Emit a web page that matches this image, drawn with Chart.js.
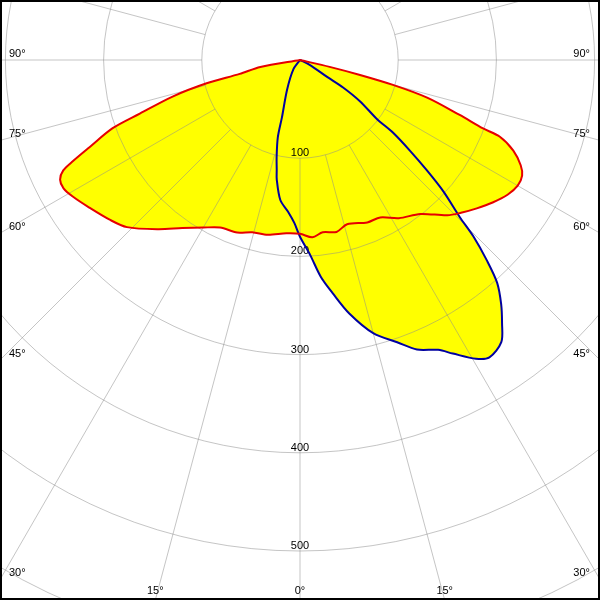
<!DOCTYPE html>
<html>
<head>
<meta charset="utf-8">
<style>
html,body{margin:0;padding:0;background:#fff;}
#wrap{width:600px;height:600px;}
canvas{display:block;}
</style>
<script src="https://cdn.jsdelivr.net/npm/chart.js@4.4.1/dist/chart.umd.min.js"></script>
</head>
<body>
<div id="wrap"><canvas id="c" width="600" height="600"></canvas></div>
<script>
// Polar light-distribution data: angle from nadir (deg, + = right), intensity (cd)
const RED_ANGLES = [-90, -80, -77, -76, -74, -71.5, -70, -67.5, -66, -65, -63.5, -61.5, -59, -55, -50, -46, -40, -35, -30, -25.5, -20, -15.5, -10.5, -4.5, 0, 4, 7.5, 12, 16, 22.5, 27, 32, 38, 43.5, 46.5, 50, 53.5, 57, 60, 62.5, 64.5, 67, 69, 69.5, 71, 73.5, 75, 76, 77, 90];
const RED_VALUES = [0, 41, 63, 98, 135, 172, 203, 232, 253, 266, 273, 274, 270, 262, 253, 245, 225, 209, 197, 189, 187, 182, 181, 177, 177, 181, 177, 179, 174, 179, 180, 190, 199, 218, 226, 235, 244, 252, 256, 255, 249, 236, 218, 199, 172, 135, 98, 63, 31, 0];

const BLUE_ANGLES = [-90, -35, -23.5, -17.5, -16, -13.5, -12, -11, -8, -4.5, -2, 0, 3, 5.5, 8, 11, 15, 19, 22, 25.5, 27.5, 30.5, 32.5, 35.5, 37.5, 39.5, 41.5, 43, 44.5, 45.5, 47.5, 49, 50.5, 52, 52.5, 55.5, 57.5, 58, 63.5, 90];
const BLUE_VALUES = [0, 12, 33, 61, 82, 102, 114, 124, 144, 155, 166, 180, 199, 222, 240, 263, 288, 304, 318, 327, 337, 353, 359, 353, 338, 322, 303, 279, 252, 228, 198, 171, 145, 120, 99, 74, 52, 33, 11, 0];

const RING_VALUES = [100, 200, 300, 400, 500, 600];
const RING_LABELS = ['100', '200', '300', '400', '500'];
const ANGLE_TICKS = [0, 15, 30, 45, 60, 75, 90];

function toXY(angles, values) {
  return angles.map((a, i) => {
    const t = a * Math.PI / 180;
    return { x: values[i] * Math.sin(t), y: -values[i] * Math.cos(t) };
  });
}

const PX_PER_CD = 0.982;
const CX_PX = 300, CY_PX = 60, W = 600, H = 600;

const gridPlugin = {
  id: 'polarGrid',
  beforeDatasetsDraw(chart) {
    const ctx = chart.ctx;
    const xs = chart.scales.x, ys = chart.scales.y;
    const cx = xs.getPixelForValue(0), cy = ys.getPixelForValue(0);
    const px = v => xs.getPixelForValue(v) - cx;
    ctx.save();
    ctx.strokeStyle = 'rgba(140,140,140,0.5)';
    ctx.lineWidth = 1;
    RING_VALUES.forEach(v => {
      ctx.beginPath();
      ctx.arc(cx, cy, px(v), 0, Math.PI * 2);
      ctx.stroke();
    });
    for (let a = 0; a < 360; a += 15) {
      const t = a * Math.PI / 180;
      const s = Math.sin(t), c = Math.cos(t);
      ctx.beginPath();
      ctx.moveTo(xs.getPixelForValue(RING_VALUES[0] * s), ys.getPixelForValue(-RING_VALUES[0] * c));
      ctx.lineTo(xs.getPixelForValue(900 * s), ys.getPixelForValue(-900 * c));
      ctx.stroke();
    }
    // ring labels
    ctx.fillStyle = '#000';
    ctx.font = '11px "Liberation Sans", Arial, sans-serif';
    ctx.textAlign = 'center';
    ctx.textBaseline = 'alphabetic';
    RING_LABELS.forEach((lbl, i) => {
      const v = RING_VALUES[i];
      ctx.fillText(lbl, cx, ys.getPixelForValue(-v) - 2);
    });
    // angle labels
    ANGLE_TICKS.forEach(a => {
      const sides = a === 0 ? [0] : [-1, 1];
      sides.forEach(sd => {
        const t = a * Math.PI / 180;
        const s = Math.sin(t), c = Math.cos(t);
        const tSide = s > 1e-6 ? (W / 2) / s : Infinity;
        const tBot = c > 1e-6 ? (H - cy) / c : Infinity;
        const txt = a + '\u00B0';
        if (tSide < tBot) {
          const yEdge = cy + tSide * c;
          ctx.textBaseline = 'middle';
          if (sd < 0) { ctx.textAlign = 'left'; ctx.fillText(txt, 9, yEdge - 6.5); }
          else { ctx.textAlign = 'right'; ctx.fillText(txt, 590, yEdge - 6.5); }
        } else {
          const xEdge = cx + sd * tBot * s;
          ctx.textBaseline = 'middle';
          ctx.textAlign = 'center';
          ctx.fillText(txt, xEdge, 590.5);
        }
      });
    });
    ctx.restore();
  },
  afterDraw(chart) {
    const ctx = chart.ctx;
    ctx.save();
    ctx.strokeStyle = '#000';
    ctx.lineWidth = 2;
    ctx.strokeRect(1, 1, W - 2, H - 2);
    ctx.restore();
  }
};

new Chart(document.getElementById('c'), {
  type: 'scatter',
  data: {
    datasets: [
      {
        label: 'C0-C180',
        data: toXY(RED_ANGLES, RED_VALUES),
        showLine: true,
        fill: 'shape',
        backgroundColor: '#ffff00',
        borderColor: '#e60000',
        borderWidth: 2,
        pointRadius: 0,
        tension: 0.3
      },
      {
        label: 'C90-C270',
        data: toXY(BLUE_ANGLES, BLUE_VALUES),
        showLine: true,
        fill: 'shape',
        backgroundColor: '#ffff00',
        borderColor: '#0000a0',
        borderWidth: 2,
        pointRadius: 0,
        tension: 0.3
      }
    ]
  },
  options: {
    responsive: false,
    animation: false,
    devicePixelRatio: 1,
    layout: { padding: 0 },
    scales: {
      x: { type: 'linear', display: false, min: -CX_PX / PX_PER_CD, max: (W - CX_PX) / PX_PER_CD },
      y: { type: 'linear', display: false, min: -(H - CY_PX) / PX_PER_CD, max: CY_PX / PX_PER_CD }
    },
    plugins: {
      legend: { display: false },
      tooltip: { enabled: false },
      filler: { drawTime: 'beforeDatasetsDraw', propagate: false }
    },
    elements: { line: { borderJoinStyle: 'round', borderCapStyle: 'round' } }
  },
  plugins: [gridPlugin]
});
</script>
</body>
</html>
